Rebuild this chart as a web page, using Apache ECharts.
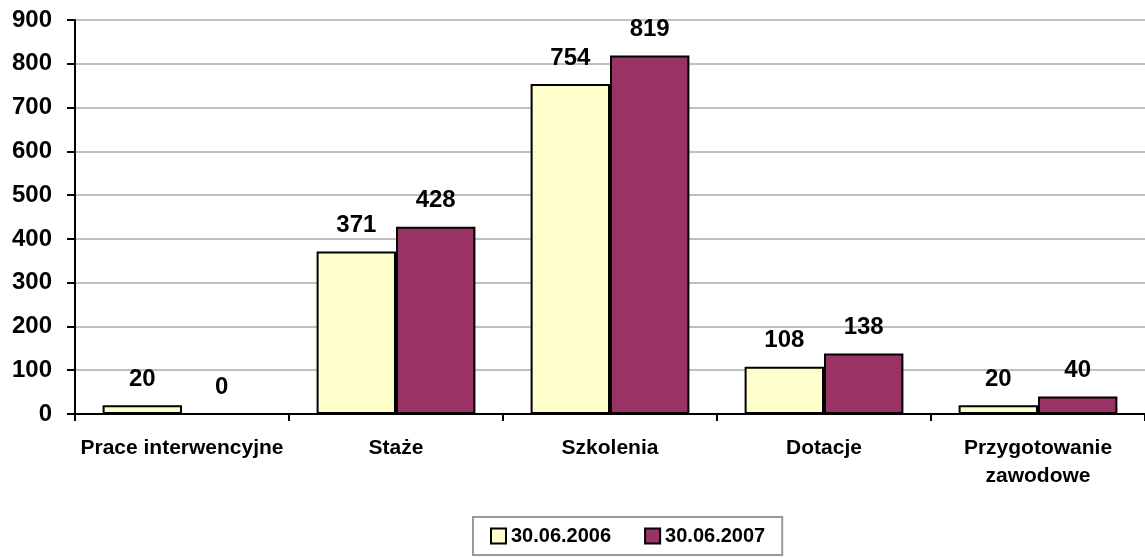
<!DOCTYPE html>
<html><head><meta charset="utf-8">
<script src="https://cdn.jsdelivr.net/npm/echarts@6/dist/echarts.min.js"></script>
<style>html,body{margin:0;padding:0;background:#fff}#c{width:1145px;height:558px}</style>
</head><body><div id="c"></div>
<script>
const categories = ['Prace interwencyjne', 'Staże', 'Szkolenia', 'Dotacje', 'Przygotowanie\nzawodowe'];
const series2006 = [20, 371, 754, 108, 20];
const series2007 = [0, 428, 819, 138, 40];
const seriesNames = ['30.06.2006', '30.06.2007'];
const yTicks = [0, 100, 200, 300, 400, 500, 600, 700, 800, 900];

const chart = echarts.init(document.getElementById('c'));
const font = 'Arial, Liberation Sans, sans-serif';
const lbl = {show: true, position: 'top', distance: 14, color: '#000', fontFamily: font, fontWeight: 'bold', fontSize: 24};
chart.setOption({
  animation: false,
  grid: {left: 75, right: -7, top: 20, bottom: 144},
  legend: {
    data: seriesNames, top: 517, left: 473,
    itemWidth: 15, itemHeight: 15, itemGap: 33,
    padding: [9, 17, 9, 17],
    borderColor: '#999', borderWidth: 2,
    textStyle: {fontFamily: font, fontWeight: 'bold', fontSize: 20, color: '#000'},
    icon: 'rect'
  },
  xAxis: {
    type: 'category', data: categories,
    axisLine: {lineStyle: {color: '#000', width: 2}},
    axisTick: {show: true, length: 7, lineStyle: {color: '#000', width: 2}},
    axisLabel: {interval: 0, color: '#000', fontFamily: font, fontWeight: 'bold', fontSize: 21, margin: 20, lineHeight: 28}
  },
  yAxis: {
    type: 'value', min: 0, max: 900, interval: 100,
    axisLine: {show: true, lineStyle: {color: '#000', width: 2}},
    axisTick: {show: true, length: 8, lineStyle: {color: '#000', width: 2}},
    splitLine: {lineStyle: {color: '#c0c0c0', width: 2}},
    axisLabel: {color: '#000', fontFamily: font, fontWeight: 'bold', fontSize: 24, margin: 23,
      formatter: v => yTicks.includes(v) ? String(v) : ''}
  },
  series: [
    {name: seriesNames[0], type: 'bar', data: series2006, barGap: '0%', barCategoryGap: '25.8%',
     itemStyle: {color: '#FFFFCC', borderColor: '#000', borderWidth: 2}, label: lbl},
    {name: seriesNames[1], type: 'bar', data: series2007,
     itemStyle: {color: '#993366', borderColor: '#000', borderWidth: 2}, label: lbl}
  ]
});
</script></body></html>
